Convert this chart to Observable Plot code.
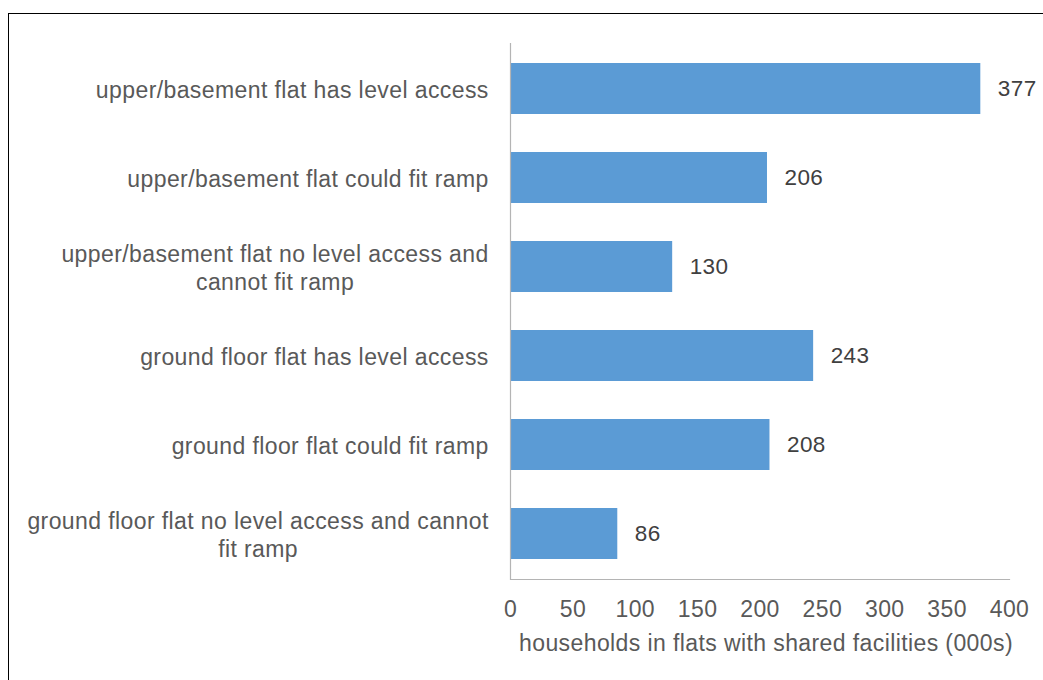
<!DOCTYPE html>
<html><head><meta charset="utf-8">
<script src="https://cdn.jsdelivr.net/npm/d3@7"></script>
<script src="https://cdn.jsdelivr.net/npm/@observablehq/plot@0.6"></script>
<style>
html,body{margin:0;padding:0;background:#fff;}
#wrap{position:relative;width:1043px;height:680px;overflow:hidden;}
#border{position:absolute;left:8px;top:13px;width:1100px;height:700px;border-top:1.5px solid #000;border-left:1.5px solid #000;pointer-events:none;}
</style></head><body>
<div id="wrap"><div id="chart"></div><div id="border"></div></div>
<script>
const categories = [
  "upper/basement flat has level access",
  "upper/basement flat could fit ramp",
  "upper/basement flat no level access and\ncannot fit ramp",
  "ground floor flat has level access",
  "ground floor flat could fit ramp",
  "ground floor flat no level access and cannot\nfit ramp"
];
const values = [377, 206, 130, 243, 208, 86];
const xTicks = [0, 50, 100, 150, 200, 250, 300, 350, 400];
const xDomain = [0, 400];
const xLabel = "households in flats with shared facilities (000s)";

const rows = categories.map((cat, i) => ({cat, value: values[i]}));

const FONT_FAMILY = "'Liberation Sans', Arial, sans-serif";
const FS = 23;
const LS = 0.4;
const ctx = document.createElement("canvas").getContext("2d");
ctx.font = FS + "px 'Liberation Sans'";
const measure = (line) => ctx.measureText(line).width + (line.length - 1) * LS;

const yLabelMarks = categories.map((c) => {
  const w = d3.max(c.split("\n"), measure);
  return Plot.text([c], {
    x: () => 0, y: (d) => d, text: (d) => d,
    textAnchor: "middle", lineAnchor: "middle", lineHeight: 1.22,
    dx: -(22 + w / 2), dy: 0, fontSize: FS, fill: "#595959"
  });
});

const chart = Plot.plot({
  width: 1043,
  height: 680,
  marginLeft: 510,
  marginRight: 34,
  marginTop: 43,
  marginBottom: 101,
  style: {fontFamily: FONT_FAMILY, letterSpacing: LS + "px", background: "transparent"},
  x: {domain: xDomain, axis: null},
  y: {domain: categories, paddingInner: 0.43, paddingOuter: 0.215, axis: null},
  marks: [
    Plot.barX(rows, {x: "value", y: "cat", fill: "#5B9BD5"}),
    Plot.ruleX([0], {stroke: "#b4b4b4", strokeWidth: 1.2}),
    Plot.frame({anchor: "bottom", stroke: "#b4b4b4", strokeWidth: 1.2}),
    Plot.axisX({ticks: xTicks, tickSize: 0, tickPadding: 21, fontSize: FS, color: "#595959", label: null, tickFormat: (d) => String(d)}),
    Plot.text(rows, {x: "value", y: "cat", text: (d) => String(d.value), textAnchor: "start", lineAnchor: "middle", dx: 17, fontSize: FS - 0.5, fill: "#404040"}),
    ...yLabelMarks,
    Plot.text([xLabel], {x: () => d3.mean(xDomain), frameAnchor: "bottom", text: (d) => d, lineAnchor: "middle", dy: 64, dx: 6, fontSize: FS, fill: "#595959", wordSpacing: "3px"})
  ]
});
chart.querySelectorAll("text").forEach(() => {});
document.getElementById("chart").appendChild(chart);
</script>
</body></html>
